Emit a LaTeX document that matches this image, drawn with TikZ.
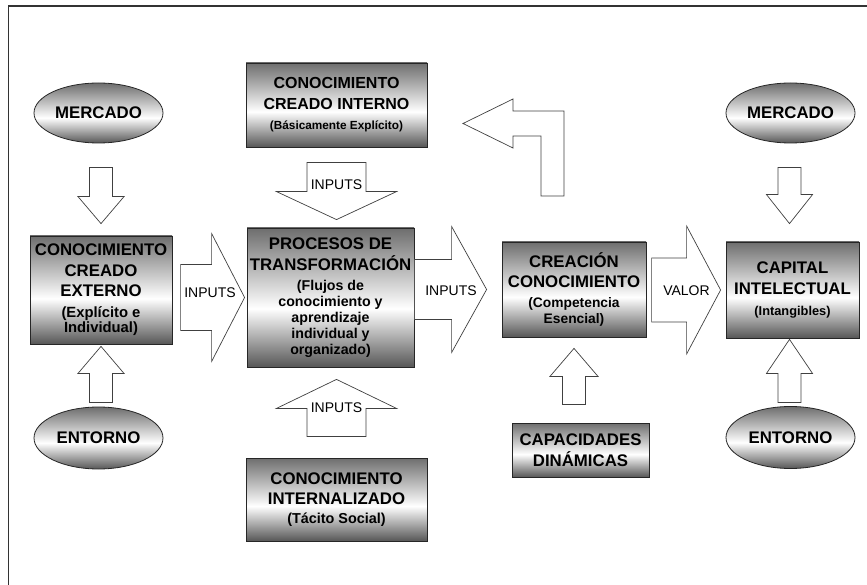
\documentclass[tikz,border=0pt]{standalone}
\usepackage{fontspec}
\setmainfont{Liberation Sans}
\usetikzlibrary{shapes.geometric}

\colorlet{shadetop}{black!57}
\colorlet{shadebot}{black!66}
\pgfdeclareverticalshading{steel}{100bp}{color(0bp)=(shadebot); color(25bp)=(shadebot);
  color(46bp)=(white); color(75bp)=(shadetop); color(100bp)=(shadetop)}

\newcommand{\boxtitle}{\fontsize{16.8}{20.5}\selectfont\bfseries}
\newcommand{\boxsub}{\fontsize{14.2}{16}\selectfont}

\tikzset{
  box/.style={draw=black!85, line width=0.8pt, shading=steel, align=center,
    inner sep=0pt, font=\boxtitle},
  oval/.style={ellipse, draw=black!85, line width=0.8pt, shading=steel,
    minimum width=129, minimum height=60, inner sep=0pt, font=\boxtitle},
  arrowline/.style={draw=black!75, line width=0.7pt, fill=white},
  arrowtext/.style={font=\fontsize{14}{16}\selectfont, inner sep=1pt},
  % block arrow pointing right, tip at the origin: length, shaft, head, head length
  pics/bigarrow/.style n args={4}{code={
    \draw[arrowline] (0,0) -- (-#4,#3) -- (-#4,#2) -- (-#1,#2) -- (-#1,-#2)
      -- (-#4,-#2) -- (-#4,-#3) -- cycle;
  }},
}

\begin{document}
\begin{tikzpicture}[x=1pt, y=-1pt]
  \useasboundingbox (0,0) rectangle (867,585);
  % frame
  \draw[black!80, line width=1.2pt] (8.5,585) -- (8.5,6) -- (867,6);

  % left column
  \node[oval] (mercA) at (98.5,113) {MERCADO};
  \node[box, minimum width=142, minimum height=108] (extA) at (101,290)
    {CONOCIMIENTO\\CREADO\\EXTERNO\\[0pt]{\fontsize{14.8}{16}\selectfont(Explícito e}\\[-5pt]
     {\fontsize{14.8}{16}\selectfont Individual)}};
  \node[oval, minimum height=62] (entA) at (98.5,438) {ENTORNO};
  \pic[rotate=-90] at ([yshift=12pt]extA.north) {bigarrow={56}{11.5}{23}{27}};
  \pic[rotate=90] at ([yshift=-2pt]extA.south) {bigarrow={56}{11.5}{23}{27}};

  % middle column
  \node[box, font=\fontsize{16}{21}\selectfont\bfseries, minimum width=181, minimum height=84]
    (intA) at (336.5,105)
    {CONOCIMIENTO\\CREADO INTERNO\\[-1pt]{\fontsize{11.8}{14}\selectfont(Básicamente Explícito)}};
  \node[box, minimum width=167, minimum height=139] (proc) at (330.5,297.5)
    {PROCESOS DE\\TRANSFORMACIÓN\\[-0.5pt]{\boxsub (Flujos de}\\[-4.5pt]{\boxsub conocimiento y}\\[-4.5pt]
     {\boxsub aprendizaje}\\[-4.5pt]{\boxsub individual y}\\[-4.5pt]{\boxsub organizado)}};
  \node[box, minimum width=181, minimum height=83] (intz) at (336.5,499.5)
    {CONOCIMIENTO\\INTERNALIZADO\\[-2pt]{\fontsize{14.4}{16}\selectfont(Tácito Social)}};
  \pic[rotate=-90] at ([shift={(6pt,8pt)}]proc.north) {bigarrow={57}{29.5}{60}{28}};
  \node[arrowtext] (inTop) at (336.5,185) {INPUTS};
  \pic[rotate=90] at ([shift={(6pt,-12pt)}]proc.south) {bigarrow={57}{29.5}{60}{29}};
  \node[arrowtext] (inBot) at (336.5,408) {INPUTS};
  \pic at ([xshift=-2pt]proc.west) {bigarrow={64}{33}{64}{33}};
  \node[arrowtext] (inLeft) at (210,293) {INPUTS};

  % creation of knowledge
  \node[box, minimum width=144, minimum height=95] (crea) at (574,289.5)
    {CREACIÓN\\CONOCIMIENTO\\[-0.5pt]{\fontsize{13.8}{16}\selectfont(Competencia}\\[-4.5pt]
     {\fontsize{13.8}{16}\selectfont Esencial)}};
  \node[box, minimum width=137, minimum height=54] (capD) at (580.5,450)
    {CAPACIDADES\\DINÁMICAS};
  \pic at ([xshift=-15pt]crea.west) {bigarrow={72}{30}{63}{35}};
  \node[arrowtext] (inMid) at (451,291) {INPUTS};
  \pic[rotate=90] at ([yshift=-11pt]crea.south) {bigarrow={56}{11.5}{24}{28}};
  % feedback to internal knowledge
  \draw[arrowline] (463,123.5) -- (513,99) -- (513,111) -- (564,111) -- (564,196)
    -- (541,196) -- (541,136) -- (513,136) -- (513,148) -- cycle;

  % right column
  \node[oval] (mercB) at (790.5,113) {MERCADO};
  \node[box, minimum width=133, minimum height=96] (capI) at (792.5,290)
    {CAPITAL\\INTELECTUAL\\[1pt]{\fontsize{12.8}{14}\selectfont(Intangibles)}};
  \node[oval, minimum height=62] (entB) at (790.5,437.5) {ENTORNO};
  \pic at ([xshift=-5pt]capI.west) {bigarrow={69}{32}{64}{34}};
  \node[arrowtext] (valor) at (686.5,291) {VALOR};
  \pic[rotate=-90] at ([shift={(-3pt,18pt)}]capI.north) {bigarrow={56}{11.5}{23}{29}};
  \pic[rotate=90] at ([shift={(-3pt,-1pt)}]capI.south) {bigarrow={63}{11.5}{23}{34}};
\end{tikzpicture}
\end{document}
